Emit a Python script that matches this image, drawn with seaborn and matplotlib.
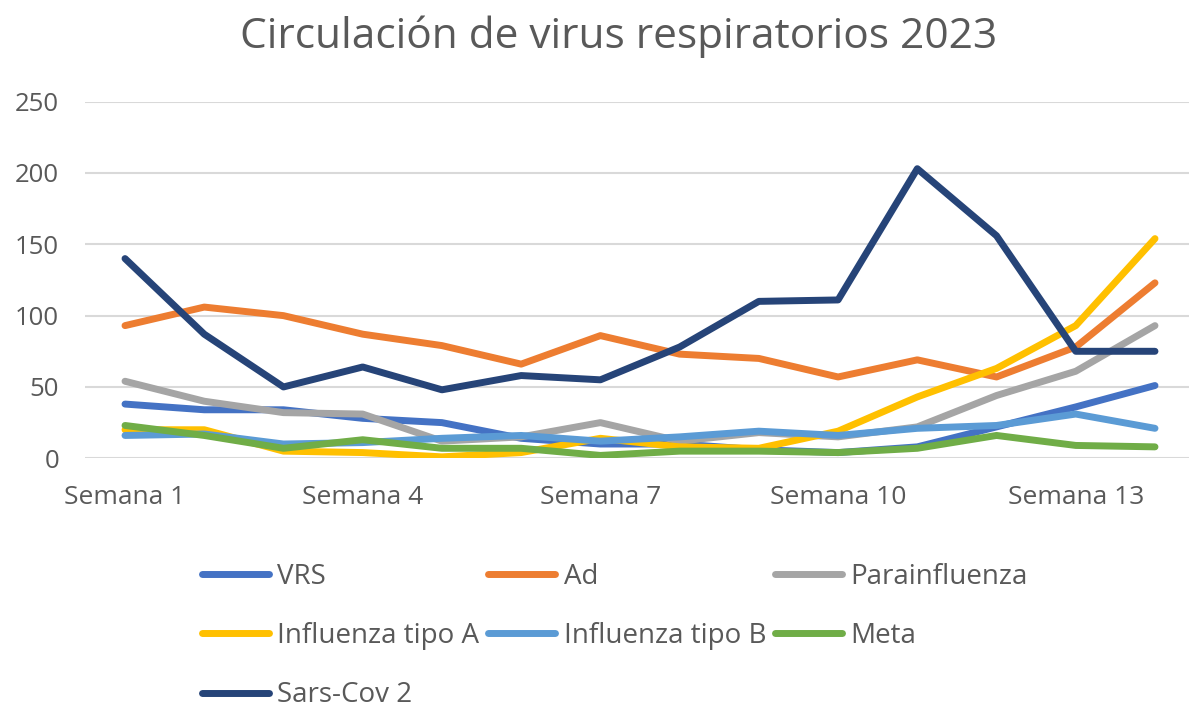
import numpy as np
import pandas as pd
import matplotlib
matplotlib.use("Agg")
import matplotlib.pyplot as plt
import seaborn as sns

# data (weeks 1..14)
semanas = [f"Semana {i}" for i in range(1, 15)]
vrs = [38, 34, 34, 28, 25, 14, 10, 10, 6, 4, 8, 22, 36, 51]
ad = [93, 106, 100, 87, 79, 66, 86, 73, 70, 57, 69, 57, 78, 123]
parainfluenza = [54, 40, 32, 31, 12, 15, 25, 12, 18, 15, 22, 44, 61, 93]
influenza_a = [20, 20, 5, 4, 1, 4, 14, 8, 7, 19, 43, 63, 93, 154]
influenza_b = [16, 17, 10, 11, 14, 16, 12, 15, 19, 16, 21, 23, 31, 21]
meta = [23, 16, 7, 13, 7, 7, 2, 5, 5, 4, 7, 16, 9, 8]
sars_cov2 = [140, 87, 50, 64, 48, 58, 55, 78, 110, 111, 203, 156, 75, 75]

series_names = ["VRS", "Ad", "Parainfluenza", "Influenza tipo A",
                "Influenza tipo B", "Meta", "Sars-Cov 2"]
series_values = [vrs, ad, parainfluenza, influenza_a, influenza_b, meta, sars_cov2]
colors = ["#4472C4", "#ED7D31", "#A5A5A5", "#FFC000", "#5B9BD5", "#70AD47", "#264478"]

sns.set_theme(style="white")
plt.rcParams['font.family'] = ['Open Sans', 'DejaVu Sans']

df = pd.DataFrame({
    "semana": np.tile(np.arange(len(semanas)), len(series_names)),
    "valor": np.concatenate(series_values),
    "virus": np.repeat(series_names, len(semanas)),
})

fig = plt.figure(figsize=(11.89, 7.07), dpi=100)
ax = fig.add_axes([85.4 / 1189, 0.3518, (1194.6 - 85.4) / 1189, 0.5044])

sns.lineplot(data=df, x="semana", y="valor", hue="virus", hue_order=series_names,
             palette=colors, linewidth=5, sort=False, ax=ax, legend=False,
             solid_capstyle="round", solid_joinstyle="round")

ax.set_xlim(-0.5, len(semanas) - 0.5)
ax.set_ylim(0, 250)
ax.set_yticks([0, 50, 100, 150, 200, 250])
tick_idx = [0, 3, 6, 9, 12]
ax.set_xticks(tick_idx)
ax.set_xticklabels([semanas[i] for i in tick_idx])
ax.yaxis.grid(True, color="#D9D9D9", linewidth=1.5)
ax.set_axisbelow(True)
for s in ax.spines.values():
    s.set_visible(False)
ax.tick_params(axis="y", length=0, pad=19, labelsize=18.5, labelcolor="#595959")
ax.tick_params(axis="x", length=0, pad=19, labelsize=19, labelcolor="#595959")
ax.set_xlabel("")
ax.set_ylabel("")

fig.text(619 / 1189, 1 - 37 / 707, "Circulación de virus respiratorios 2023",
         ha="center", va="center", fontsize=30.5, color="#595959")

# legend, column-major order so it reads row by row like the original
handles = [plt.Line2D([], [], color=c, linewidth=5, solid_capstyle="round") for c in colors]
order = [0, 3, 6, 1, 4, 2, 5]
leg = fig.legend([handles[i] for i in order], [series_names[i] for i in order],
                 ncol=3, loc="upper left", bbox_to_anchor=(201.5 / 1189, 1 - 563 / 707),
                 frameon=False, fontsize=20, handlelength=2.42, handletextpad=0.3,
                 columnspacing=0.32, labelspacing=1.12, borderpad=0, borderaxespad=0)
for t in leg.get_texts():
    t.set_color("#595959")

fig.savefig("out.png", dpi=100)
